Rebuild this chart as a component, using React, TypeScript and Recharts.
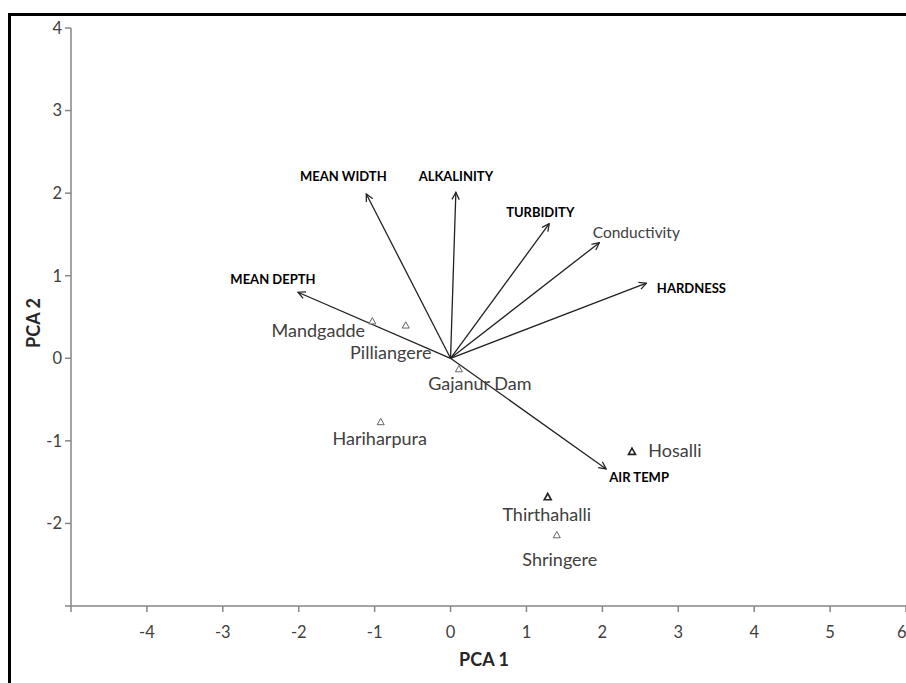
import React from 'react';
import { ScatterChart, Scatter, XAxis, YAxis } from 'recharts';

// sites (PCA scores)
const sites = ['Mandgadde', 'Pilliangere', 'Gajanur Dam', 'Hariharpura', 'Hosalli', 'Thirthahalli', 'Shringere'];
const siteX = [-1.03, -0.59, 0.11, -0.92, 2.39, 1.28, 1.40];
const siteY = [0.45, 0.40, -0.13, -0.77, -1.13, -1.68, -2.14];

// variable loadings (arrows from origin)
const variables = ['MEAN WIDTH', 'ALKALINITY', 'TURBIDITY', 'Conductivity', 'HARDNESS', 'MEAN DEPTH', 'AIR TEMP'];
const varX = [-1.11, 0.07, 1.30, 1.96, 2.58, -2.01, 2.05];
const varY = [1.99, 2.01, 1.63, 1.40, 0.91, 0.80, -1.34];

const xTicks = [-5, -4, -3, -2, -1, 0, 1, 2, 3, 4, 5, 6];
const yTicks = [-3, -2, -1, 0, 1, 2, 3, 4];

// label placement (pixels from the mark)
const siteLabelOffset: Record<string, [number, number]> = {
  Mandgadde: [-54, 9],
  Pilliangere: [-15, 27],
  'Gajanur Dam': [21, 14],
  Hariharpura: [-1, 16],
  Hosalli: [43, -2],
  Thirthahalli: [-1, 17],
  Shringere: [3, 24],
};
const darkSites = ['Hosalli', 'Thirthahalli'];

const varLabelOffset: Record<string, [number, number]> = {
  'MEAN WIDTH': [-23, -18],
  ALKALINITY: [0, -16],
  TURBIDITY: [-9, -12],
  Conductivity: [37, -11],
  HARDNESS: [45, 5],
  'MEAN DEPTH': [-25, -13],
  'AIR TEMP': [33, 8],
};

const siteData = sites.map((name, i) => ({ name, x: siteX[i], y: siteY[i] }));

const SiteShape = (props: any) => {
  const { cx, cy, payload } = props;
  const [dx, dy] = siteLabelOffset[payload?.name] ?? [0, 15];
  const dark = darkSites.includes(payload?.name);
  const s = 3.5;
  return (
    <g>
      <path d={`M${cx},${cy - s} L${cx + s},${cy + s * 0.8} L${cx - s},${cy + s * 0.8} Z`}
        fill="#fff" stroke={dark ? '#222' : '#666'} strokeWidth={dark ? 1.6 : 1} />
      <text x={cx + dx} y={cy + dy} textAnchor="middle" dominantBaseline="central"
        fontSize={18} fill="#404040">{payload?.name}</text>
    </g>
  );
};

const TipShape = (props: any) => {
  const { cx, cy, payload } = props;
  if (!payload?.name) return <g />;
  const [dx, dy] = varLabelOffset[payload.name] ?? [0, -12];
  const bold = payload.name !== 'Conductivity';
  return (
    <text x={cx + dx} y={cy + dy} textAnchor="middle" dominantBaseline="central"
      fontSize={bold ? 13 : 15.5} fontWeight={bold ? 700 : 400} fill={bold ? '#000' : '#404040'}>
      {payload.name}
    </text>
  );
};

export default function App() {
  return (
    <div style={{ position: 'absolute', left: 0, top: 0, width: 906, height: 683, overflow: 'hidden', background: '#fff', fontFamily: 'Lato, "Noto Sans", sans-serif' }}>
      <svg width={0} height={0} style={{ position: 'absolute' }}>
        <defs>
          <marker id="arrowHead" viewBox="0 0 10 10" refX={9} refY={5} markerWidth={9} markerHeight={9}
            markerUnits="userSpaceOnUse" orient="auto">
            <path d="M1,1 L9,5 L1,9" fill="none" stroke="#222" strokeWidth={1.4} />
          </marker>
        </defs>
      </svg>
      <div style={{ position: 'absolute', left: 8, top: 13, width: 2000, height: 2000, borderLeft: '3px solid #000', borderTop: '3px solid #000' }} />
      <div style={{ position: 'absolute', left: 0, top: 0 }}>
        <ScatterChart width={906} height={683} margin={{ top: 28, right: 0, bottom: 0, left: 0 }}>
          <XAxis type="number" dataKey="x" domain={[-5, 6]} ticks={xTicks} allowDataOverflow
            height={77} stroke="#868686" strokeWidth={1.5} tickSize={6} tickMargin={14}
            tick={{ fontSize: 16.5, fill: '#404040' }}
            tickFormatter={(v: number) => (v === -5 ? '' : String(v))}
            label={{
              content: () => (
                <text x={484} y={659} textAnchor="middle" dominantBaseline="central"
                  fontSize={18} fontWeight={700} fill="#262626">PCA 1</text>
              ),
            }} />
          <YAxis type="number" dataKey="y" domain={[-3, 4]} ticks={yTicks} allowDataOverflow
            width={71} stroke="#868686" strokeWidth={1.5} tickSize={6} tickMargin={3}
            tick={{ fontSize: 16.5, fill: '#404040' }}
            tickFormatter={(v: number) => (v === -3 ? '' : String(v))}
            label={{
              content: () => (
                <text x={33} y={323} textAnchor="middle" dominantBaseline="central"
                  transform="rotate(-90 33 323)" fontSize={18} fontWeight={700} fill="#262626">PCA 2</text>
              ),
            }} />
          {variables.map((name, i) => (
            <Scatter key={name} name={name} isAnimationActive={false}
              data={[{ x: 0, y: 0, name: '' }, { x: varX[i], y: varY[i], name }]}
              fill="#222" line={{ stroke: '#222', strokeWidth: 1.3, markerEnd: 'url(#arrowHead)' }}
              shape={TipShape} />
          ))}
          <Scatter name="sites" data={siteData} isAnimationActive={false} fill="#666" shape={SiteShape} />
        </ScatterChart>
      </div>
    </div>
  );
}
